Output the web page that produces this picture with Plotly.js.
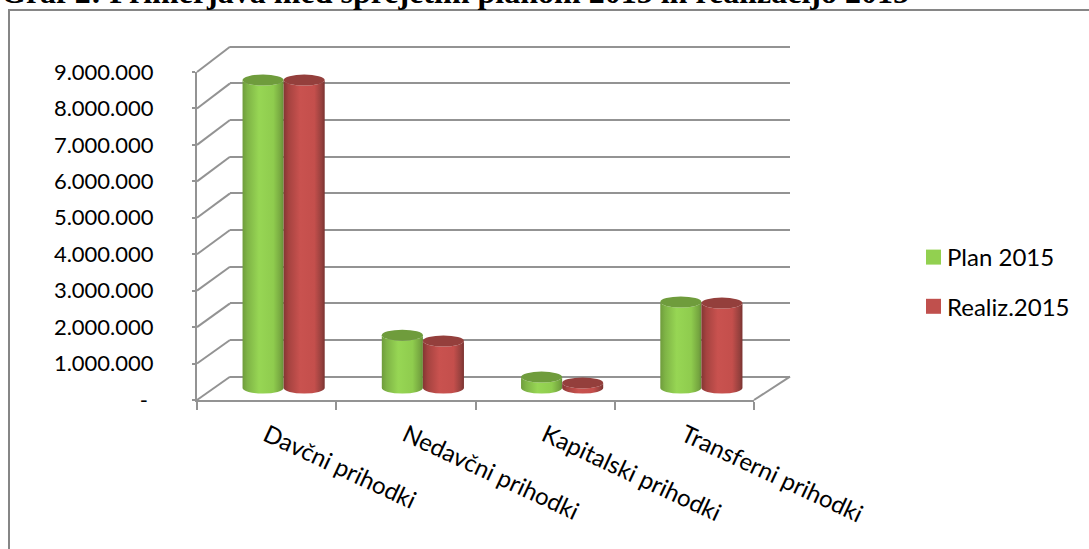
<!DOCTYPE html>
<html><head><meta charset="utf-8">
<script src="https://cdn.plot.ly/plotly-3.0.1.min.js"></script>
<style>html,body{margin:0;padding:0;background:#fff;overflow:hidden}</style>
</head><body><div id="chart" style="width:1089px;height:549px"></div>
<script>
const categories = ["Davčni prihodki","Nedavčni prihodki","Kapitalski prihodki","Transferni prihodki"];
const plan2015 = [8450000,1450000,300000,2360000];
const realiz2015 = [8450000,1290000,140000,2330000];
const yTickVals = [0,1000000,2000000,3000000,4000000,5000000,6000000,7000000,8000000,9000000];
const yTickText = ["-\u00a0","1.000.000","2.000.000","3.000.000","4.000.000","5.000.000","6.000.000","7.000.000","8.000.000","9.000.000"];
const chartTitle = "Graf 2: Primerjava med sprejetim planom 2015 in realizacijo 2015";

const W=1089,H=549;
const dx=a=>[a[0]/W,a[1]/W], dy=a=>[1-a[1]/H,1-a[0]/H];
const GRID='#939393', FONT='Lato, Carlito, "Open Sans", sans-serif', FS=22, FSL=24;
const yMax=9000000;
const backPx=yMax/330, barPx=yMax/328;

const traces=[
 {type:'scatter',mode:'none',x:categories,y:plan2015,xaxis:'x',yaxis:'y',showlegend:false,hoverinfo:'skip'},
 {type:'scatter',mode:'none',x:categories,y:plan2015,xaxis:'x2',yaxis:'y2',showlegend:false,hoverinfo:'skip'},
 {type:'bar',name:'Plan 2015',x:categories,y:plan2015,xaxis:'x3',yaxis:'y3',marker:{color:'#92d050'},legendgroup:'a',cliponaxis:false},
 {type:'bar',name:'Realiz.2015',x:categories,y:realiz2015,xaxis:'x3',yaxis:'y3',marker:{color:'#c0504d'},legendgroup:'b',cliponaxis:false}
];

const shapes=[];
const line=(x0,y0,x1,y1,c,w)=>({type:'line',xref:'paper',yref:'paper',x0:x0/W,x1:x1/W,y0:1-y0/H,y1:1-y1/H,line:{color:c||GRID,width:w||2}});
for(let k=0;k<=9;k++){shapes.push(line(197,400-k*36.44,230,376.7-k*36.67));}
shapes.push(line(754,400,790,376.7));
shapes.push({type:'rect',xref:'paper',yref:'paper',x0:9/W,x1:1095/W,y0:1-10/H,y1:-0.1,line:{color:'#868686',width:2},fillcolor:'rgba(0,0,0,0)'});

const layout={
 width:W,height:H,margin:{l:0,r:0,t:0,b:0,pad:0},paper_bgcolor:'#fff',plot_bgcolor:'rgba(0,0,0,0)',
 font:{family:FONT,size:FS,color:'#000'},
 showlegend:true,barmode:'group',bargap:0.41,bargroupgap:0,
 legend:{x:907/W,xanchor:'left',y:1-282/H,yanchor:'middle',tracegroupgap:15,font:{family:FONT,size:FSL,color:'#000'},bgcolor:'rgba(0,0,0,0)',traceorder:'grouped',itemwidth:30},
 xaxis:{domain:dx([197,754]),type:'category',categoryorder:'array',categoryarray:categories,range:[-0.5,3.5],tickson:'boundaries',
  anchor:'y',ticks:'outside',ticklen:8,tickwidth:2,tickcolor:GRID,showline:true,linecolor:GRID,linewidth:2,showgrid:false,tickangle:25,ticklabelstandoff:10,
  tickfont:{family:FONT,size:FSL,color:'#000'},automargin:false},
 yaxis:{domain:dy([72,400]),range:[0,yMax],anchor:'x',tickmode:'array',tickvals:yTickVals,ticktext:yTickText,ticks:'outside',ticklen:3,tickwidth:2,tickcolor:GRID,
  showline:true,linecolor:GRID,linewidth:2,showgrid:false,zeroline:false,ticklabelstandoff:34,tickfont:{family:FONT,size:FS,color:'#000'},automargin:false},
 xaxis2:{domain:dx([230,790]),anchor:'y2',visible:false,type:'category',range:[-0.5,3.5]},
 yaxis2:{domain:dy([44.7,378.7]),anchor:'x2',range:[-2*backPx,yMax+2*backPx],tickmode:'array',tickvals:yTickVals,showticklabels:false,ticks:'',showgrid:true,gridcolor:GRID,gridwidth:2,zeroline:false,showline:false},
 xaxis3:{domain:dx([214,771]),anchor:'y3',visible:false,type:'category',categoryorder:'array',categoryarray:categories,range:[-0.5,3.5]},
 yaxis3:{domain:dy([60,398]),anchor:'x3',visible:false,range:[-10*barPx,yMax]},
 shapes:shapes,
 annotations:[{text:'<b>'+chartTitle+'</b>',xref:'paper',yref:'paper',x:0,y:1-11/H,xanchor:'left',yanchor:'bottom',showarrow:false,align:'left',
   font:{family:'"Liberation Serif",serif',size:32,color:'#000'},borderpad:0}]
};

Plotly.newPlot('chart',traces,layout,{displayModeBar:false,staticPlot:true}).then(gd=>{
 const svg=gd.querySelector('svg.main-svg');
 const NS='http://www.w3.org/2000/svg';
 const defs=svg.querySelector('defs');
 const grad=(id,stops)=>{const g=document.createElementNS(NS,'linearGradient');g.setAttribute('id',id);g.setAttribute('x1','0');g.setAttribute('x2','1');g.setAttribute('y1','0');g.setAttribute('y2','0');
  stops.forEach(s=>{const t=document.createElementNS(NS,'stop');t.setAttribute('offset',s[0]);t.setAttribute('stop-color',s[1]);g.appendChild(t);});defs.appendChild(g);};
 grad('cylG',[[0,'#6f9c3c'],[0.12,'#7fb446'],[0.4,'#97d654'],[0.75,'#8fcc4e'],[0.93,'#76a640'],[1,'#66903a']]);
 grad('cylR',[[0,'#843633'],[0.12,'#a54340'],[0.4,'#c9524f'],[0.75,'#c44f4c'],[0.93,'#94403d'],[1,'#7a3230']]);
 const caps=['#6f9c3c','#943f3c'], fills=['url(#cylG)','url(#cylR)'];
 gd.querySelectorAll('.barlayer .trace.bars').forEach((tr,i)=>{
  tr.querySelectorAll('.point path').forEach(p=>{
   const b=p.getBBox(), rx=b.width/2, ry=5.5, x0=b.x, x1=b.x+b.width, yt=b.y, yb=b.y+b.height;
   p.setAttribute('d',`M${x0},${yt}L${x0},${yb}A${rx},${ry} 0 0 0 ${x1},${yb}L${x1},${yt}A${rx},${ry} 0 0 1 ${x0},${yt}Z`);
   p.style.fill=fills[i];
   const c=document.createElementNS(NS,'ellipse');
   c.setAttribute('cx',x0+rx);c.setAttribute('cy',yt);c.setAttribute('rx',rx);c.setAttribute('ry',ry);c.setAttribute('fill',caps[i]);
   p.parentNode.appendChild(c);
  });
 });
 const fixLegend=()=>gd.querySelectorAll('.legend .legendpoints path').forEach(p=>p.setAttribute('d','M14,7.5H-1V-7.5H14Z'));
 fixLegend(); setTimeout(fixLegend,0); setTimeout(fixLegend,100);
});
</script></body></html>
